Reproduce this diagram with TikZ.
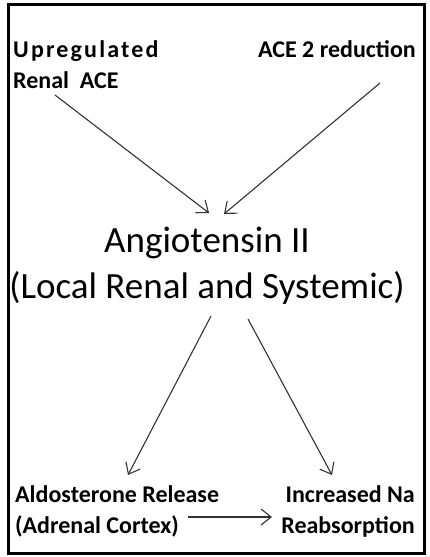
\documentclass[tikz,border=0pt]{standalone}
\usepackage{fontspec}
\setmainfont{Carlito}
\usetikzlibrary{arrows.meta}
\begin{document}
\begin{tikzpicture}[x=1pt,y=-1pt,
  small/.style={font=\fontsize{24}{31}\selectfont\bfseries, inner sep=0pt, text=black},
  big/.style={font=\fontsize{37}{46}\selectfont, inner sep=0pt, align=center, text=black},
  conn/.style={draw=black!80, line width=1.1pt, -{Straight Barb[length=10pt,width=16pt]}},
  frame/.style={draw=black, line width=3.5pt}]
\useasboundingbox (0,0) rectangle (429,557);
\fill[white] (0,0) rectangle (429,557);
\draw[frame] (8.5,4.5) rectangle (424.5,553.5);
\node[small, anchor=base west, align=left] (up) at (13,88) {{\addfontfeature{LetterSpace=9}Upregulated}\\Renal\ \ ACE};
\node[small, anchor=base east, align=right] (ace2) at (416,57) {ACE 2 reduction};
\node[big, anchor=base] (ang) at (207,298) {Angiotensin II\\(Local Renal and Systemic)};
\node[small, anchor=base west, align=left] (ald) at (15,533) {Aldosterone Release\\(Adrenal Cortex)};
\node[small, anchor=base east, align=right] (na) at (415,533) {Increased Na\\Reabsorption};
\coordinate (a1s) at (55,95);  \coordinate (a1e) at (209,213);
\coordinate (a2s) at (380,83); \coordinate (a2e) at (224,214);
\coordinate (a3s) at (211,316); \coordinate (a3e) at (128,475);
\coordinate (a4s) at (248,319); \coordinate (a4e) at (332,475);
\coordinate (a5s) at (188,517); \coordinate (a5e) at (272,517);
\draw[conn] (a1s) -- (a1e);
\draw[conn] (a2s) -- (a2e);
\draw[conn] (a3s) -- (a3e);
\draw[conn] (a4s) -- (a4e);
\draw[conn] (a5s) -- (a5e);
\end{tikzpicture}
\end{document}
